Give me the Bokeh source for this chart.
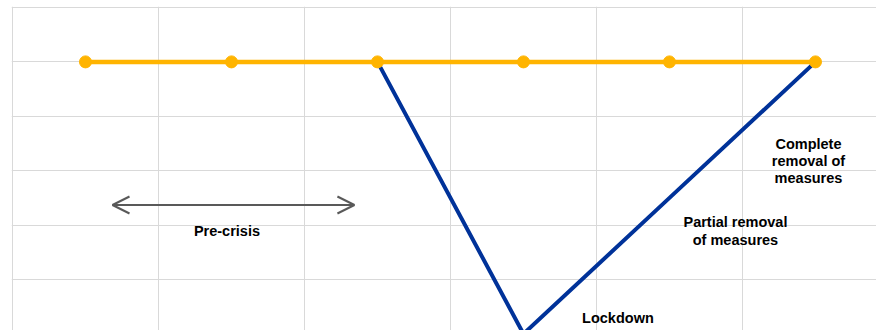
from bokeh.plotting import figure
from bokeh.models import Range1d, FixedTicker, Label, Arrow, OpenHead
from bokeh.embed import file_html
from bokeh.resources import INLINE

# ---- data ----
periods = [0, 1, 2, 3, 4, 5]
pre_crisis_path = [100, 100, 100, 100, 100, 100]
crisis_path = [float("nan"), float("nan"), 100, 50, 75, 100]
x_grid = [-0.5, 0.5, 1.5, 2.5, 3.5, 4.5, 5.5]
y_grid = [50, 60, 70, 80, 90, 100, 110]

ORANGE = "#FFB400"
BLUE = "#003299"
GRID = "#D9D9D9"
FONT = "Liberation Sans"

p = figure(width=876, height=330, output_backend="svg", toolbar_location=None,
           x_range=Range1d(-0.5068, 5.418), y_range=Range1d(50.625, 110.18),
           min_border_left=11, min_border_right=0, min_border_top=6, min_border_bottom=0)
p.outline_line_color = None
p.background_fill_color = "white"
p.border_fill_color = "white"

p.xaxis.ticker = FixedTicker(ticks=x_grid)
p.yaxis.ticker = FixedTicker(ticks=y_grid)
p.xaxis.visible = False
p.yaxis.visible = False
p.xgrid.grid_line_color = GRID
p.ygrid.grid_line_color = GRID
p.xgrid.grid_line_width = 1
p.ygrid.grid_line_width = 1

p.line(periods, crisis_path, line_color=BLUE, line_width=4)
p.line(periods, pre_crisis_path, line_color=ORANGE, line_width=4.5)
p.scatter(periods, pre_crisis_path, size=12, fill_color=ORANGE, line_color=ORANGE)

# pre-crisis arrow
p.add_layout(Arrow(x_start=0.185, y_start=73.69, x_end=1.842, y_end=73.69,
                   line_color="#595959", line_width=2,
                   start=OpenHead(size=17, line_color="#595959", line_width=2),
                   end=OpenHead(size=17, line_color="#595959", line_width=2)))

labels = [
    ("Pre-crisis", 0.969, 68.85),
    ("Lockdown", 3.647, 52.95),
    ("Partial removal", 4.452, 70.51),
    ("of measures", 4.452, 67.29),
    ("Complete", 4.952, 84.98),
    ("removal of", 4.952, 81.81),
    ("measures", 4.952, 78.65),
]
for t, x, y in labels:
    p.add_layout(Label(x=x, y=y, text=t, text_align="center", text_baseline="alphabetic",
                       text_font=FONT, text_font_style="bold", text_font_size="14.5px",
                       text_color="#000000"))

open("out.html", "w").write(file_html(p, INLINE))
